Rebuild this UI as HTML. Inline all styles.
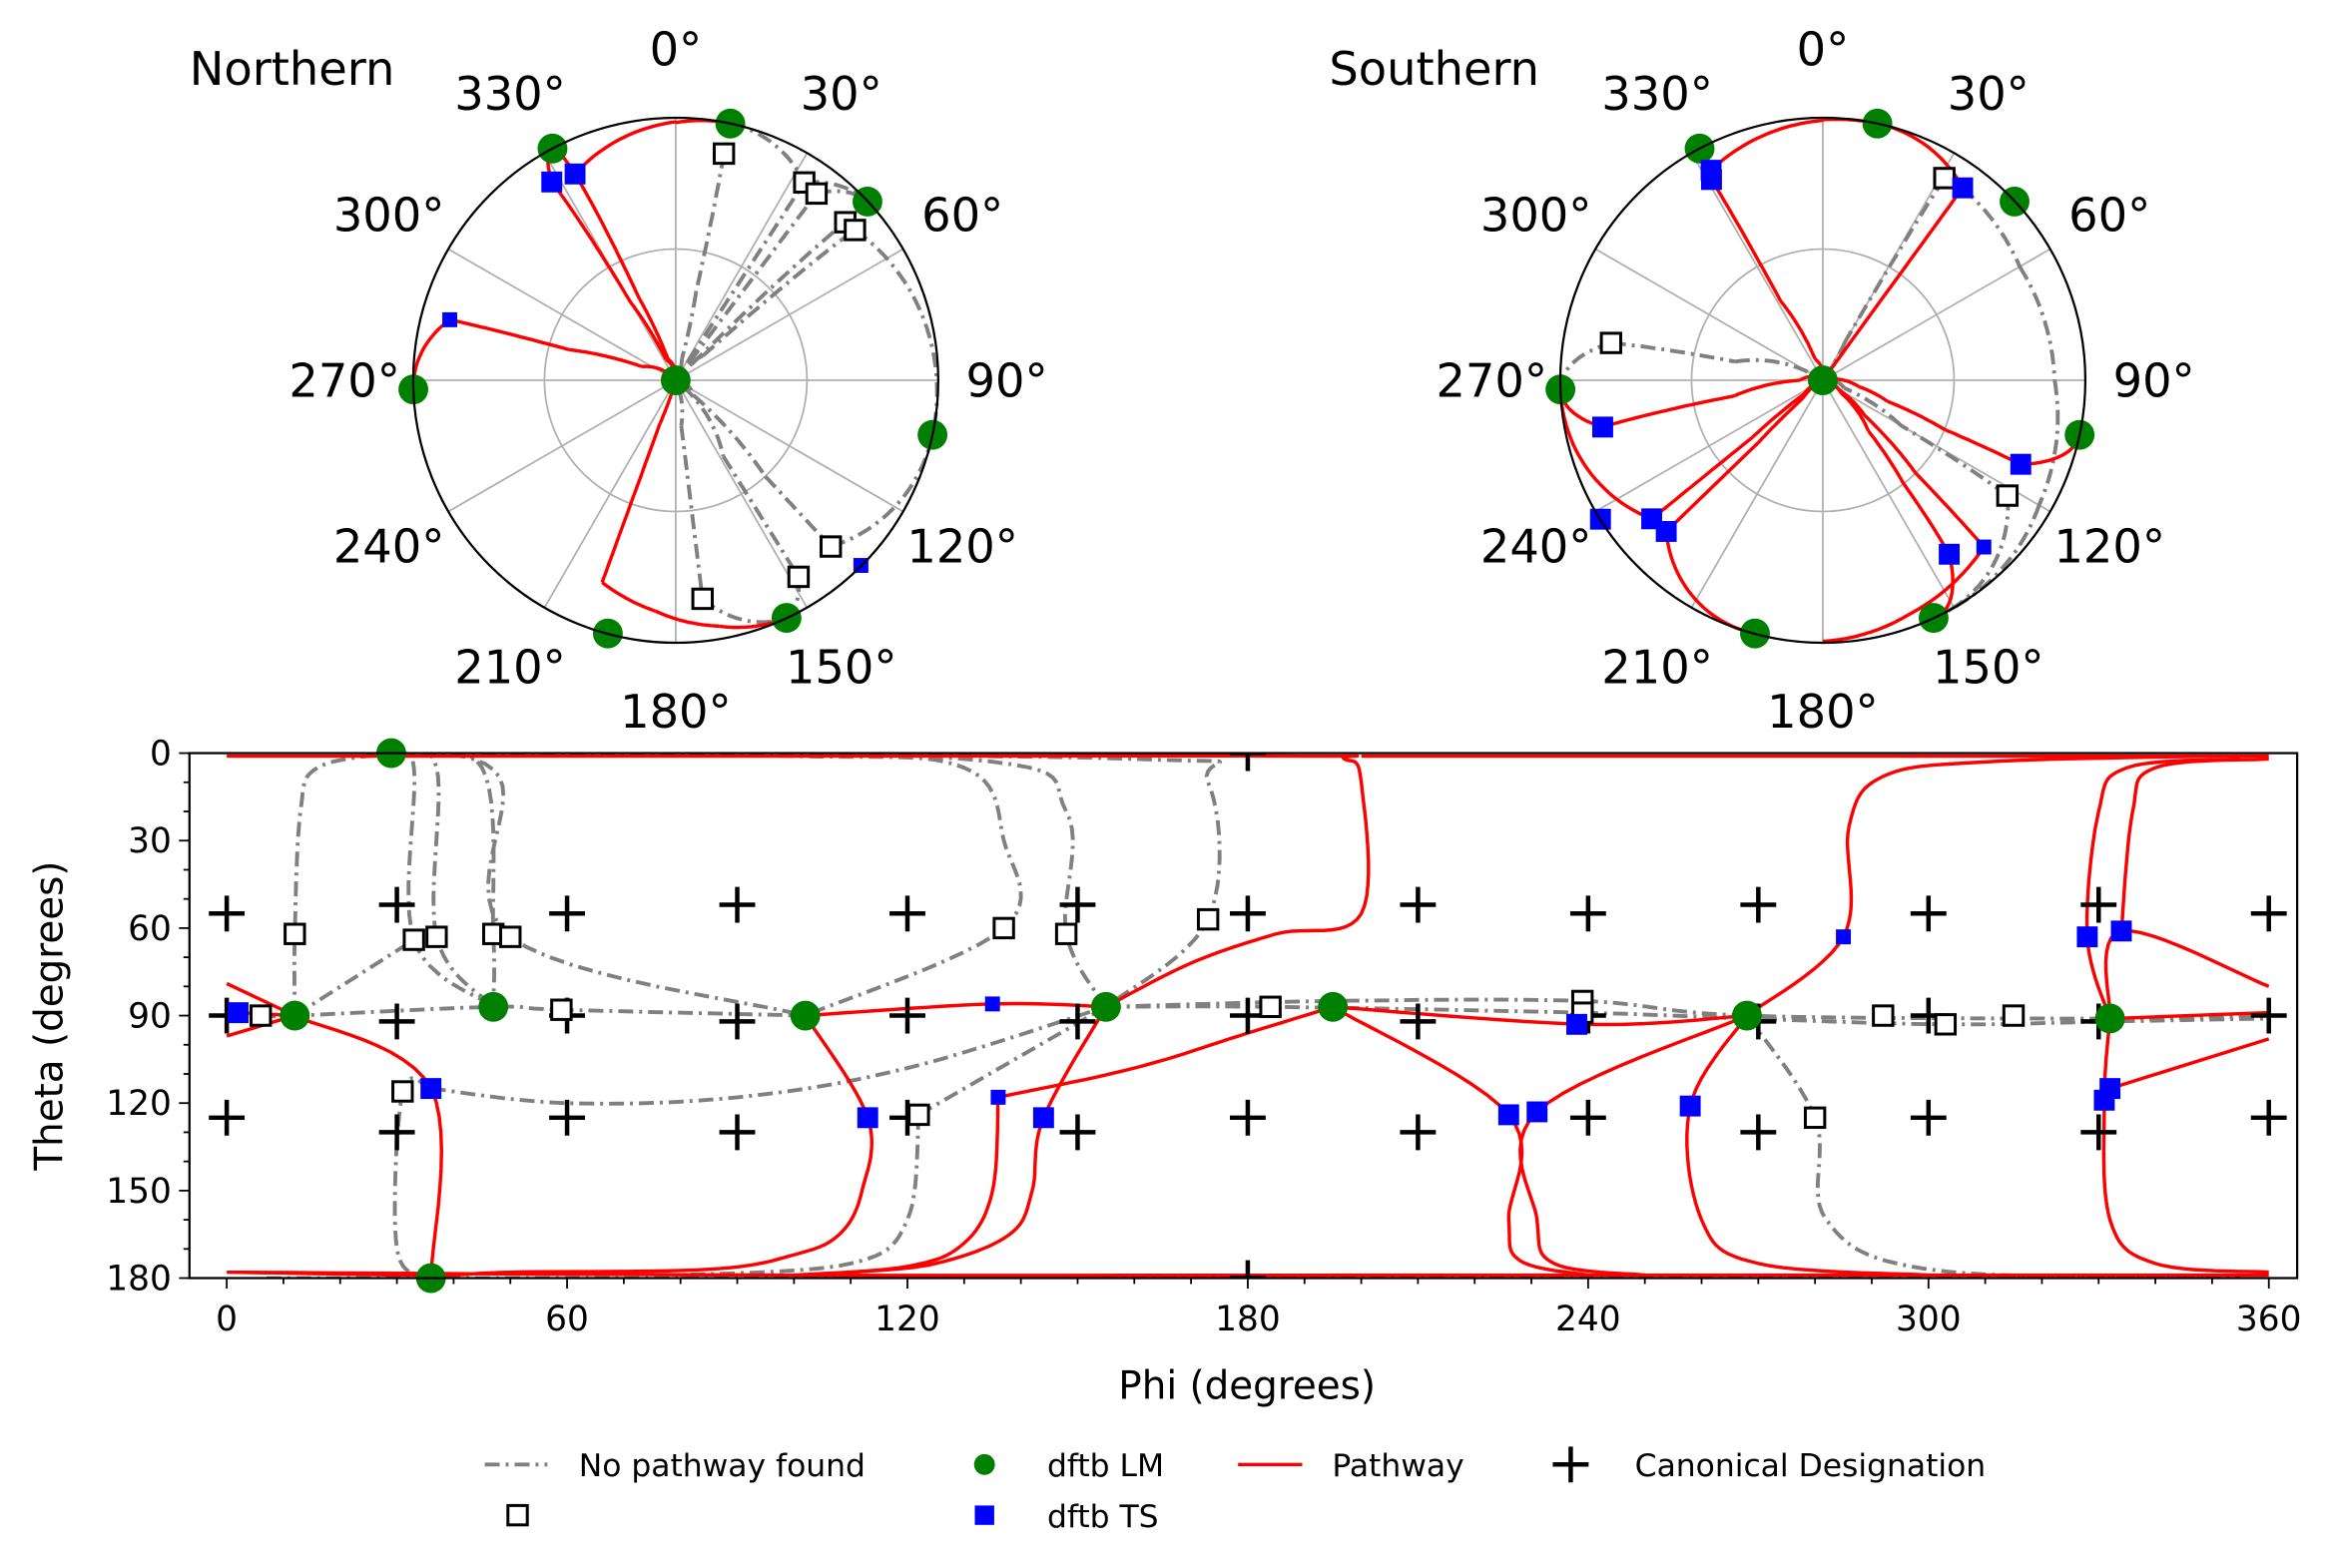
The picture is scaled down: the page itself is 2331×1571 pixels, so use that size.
<!DOCTYPE html>
<html><head><meta charset="utf-8"><style>
html,body{margin:0;padding:0;background:#fff}
svg{display:block;font-family:"DejaVu Sans","Liberation Sans",sans-serif}
</style></head><body>
<svg id="fig" width="2331" height="1571" viewBox="0 0 1560 1051.4" preserveAspectRatio="none" xmlns="http://www.w3.org/2000/svg">
<g id="north"></g>
<g id="south"></g>
<g id="rect"></g>
<g id="legend"></g>
</svg>
<script>
// ---- data (phi, theta in degrees) ----
const lmPoints=[[29,0],[36,180],[12,90],[47,87],[102,90],[155,87],[195,87],[268,90],[332,91]];
const tsLarge=[[2,89],[36,115],[113,125],[144,125],[226,124],[231,123],[258,121],[238,93],[328,63],[334,61],[331,119],[332,115]];
const tsSmall=[[135,86],[136,118],[285,63]];
const openSquares=[[6,90],[12,62],[33,64],[37,63],[47,62],[50,63],[59,88],[31,116],[122,124],[137,60],[148,62],[173,57],[184,87],[239,85],[239,89],[292,90],[303,93],[315,90],[280,125]];
const canonPhi=[0,30,60,90,120,150,180,210,240,270,300,330,360];
const canonThetaEven=[55,90,125];
const canonThetaOdd=[52,92,130];
const canonExtra=[[180,0],[180,180]];
const pathways=[
 [[0,1],[100,1],[190,1],[197,2],[200,10],[200,55],[185,62],[170,72],[155,87]],
 [[200,1],[300,1],[360,1]],
 [[0,178],[100,179],[200,179],[300,179],[360,179]],
 [[0,79],[12,90]],[[0,97],[12,90]],[[2,89],[12,90]],
 [[12,90],[36,115],[36,180]],
 [[102,90],[135,86],[155,87]],
 [[102,90],[113,125],[112,150],[108,165],[100,172],[85,177],[50,178],[36,179],[2,178]],
 [[155,87],[144,125],[142,150],[138,165],[125,175],[110,178]],
 [[136,118],[135,150],[130,168],[120,176],[100,179]],
 [[136,118],[160,108],[180,96],[195,87]],
 [[195,87],[240,93],[268,90]],
 [[195,87],[226,124],[226,160],[228,174],[240,179]],
 [[268,90],[231,123],[231,160],[234,175],[250,179]],
 [[268,90],[258,121],[260,160],[270,175],[300,179]],
 [[268,90],[285,63],[286,25],[292,8],[310,3],[350,1]],
 [[332,91],[328,63],[330,20],[335,5],[355,2]],
 [[332,91],[334,61],[360,80]],
 [[334,61],[336,20],[340,5],[360,2]],
 [[332,91],[331,119],[332,160],[340,175],[360,178]],
 [[332,115],[360,98]],
 [[332,91],[360,89]]
];
const noPathways=[
 [[12,90],[12,62],[13,20],[16,5],[29,0]],
 [[29,0],[33,5],[33,64],[47,87]],
 [[29,0],[37,5],[37,63],[47,87]],
 [[29,0],[45,5],[47,62],[47,87]],
 [[29,0],[48,8],[50,63],[102,90]],
 [[12,90],[33,64]],
 [[6,90],[12,90],[47,87],[59,88],[102,90]],
 [[29,0],[100,1],[130,5],[137,30],[137,60],[102,90]],
 [[29,0],[130,2],[148,20],[148,62],[155,87]],
 [[29,0],[160,2],[173,10],[173,57],[155,87]],
 [[36,115],[31,116],[30,170],[36,180]],
 [[36,115],[60,120],[90,118],[120,108],[155,87]],
 [[122,124],[155,87]],
 [[122,124],[120,160],[110,175],[80,179]],
 [[155,87],[195,85],[239,85],[268,90],[332,91],[360,90]],
 [[155,87],[184,87],[239,89],[268,91],[303,93],[332,92],[360,91]],
 [[7,180],[355,180]],
 [[268,90],[280,125],[282,160],[300,177],[350,180]]
];
// ---- rendering ----
const NS="http://www.w3.org/2000/svg";
function mk(p,t,a){const e=document.createElementNS(NS,t);for(const k in a)e.setAttribute(k,a[k]);p.appendChild(e);return e;}
const X0=127,X1=1540,Y0=505,Y1=857;
const xs=ph=>152+ph*(1521-152)/360;
const ys=th=>Y0+th*(Y1-Y0)/180;
const rect=document.getElementById('rect');
const RED="#ff0000",GRAY="#808080",GREEN="#008000",BLUE="#0000ff";
const dashdot="10,4,2,4";
function curve(g,pts,px,py,st,w,dash,name){
 const d=pts.map((p,i)=>(i?'L':'M')+px(p).toFixed(1)+','+py(p).toFixed(1)).join('');
 const e=mk(g,'path',{d:d,fill:'none',stroke:st,'stroke-width':w,'stroke-linejoin':'round'});
 if(dash)e.setAttribute('stroke-dasharray',dash);
 
 
}
function smooth2(pts){
 if(pts.length<3)return pts;
 const out=[];
 for(let i=0;i<pts.length-1;i++){
  const p0=pts[Math.max(0,i-1)],p1=pts[i],p2=pts[i+1],p3=pts[Math.min(pts.length-1,i+2)];
  const s=0.35;
  const c1=[p1[0]+(p2[0]-p0[0])*s/2,p1[1]+(p2[1]-p0[1])*s/2];
  const c2=[p2[0]-(p3[0]-p1[0])*s/2,p2[1]-(p3[1]-p1[1])*s/2];
  for(let k=0;k<12;k++){const t=k/12,u=1-t;
   out.push([0,1].map(j=>u*u*u*p1[j]+3*u*u*t*c1[j]+3*u*t*t*c2[j]+t*t*t*p2[j]));}
 }
 out.push(pts[pts.length-1]);return out;
}
function lm(g,x,y,name){const e=mk(g,'circle',{cx:x,cy:y,r:10,fill:GREEN});}
function ts(g,x,y,s,name){const e=mk(g,'rect',{x:x-s/2,y:y-s/2,width:s,height:s,fill:BLUE});}
function osq(g,x,y,name){const e=mk(g,'rect',{x:x-6.5,y:y-6.5,width:13,height:13,fill:'#fff',stroke:'#000','stroke-width':2});}
function plus(g,x,y,name){const e=mk(g,'path',{d:`M${x-12},${y}H${x+12}M${x},${y-12}V${y+12}`,stroke:'#000','stroke-width':3});}
function txt(g,x,y,s,size,anchor,name,extra){const e=mk(g,'text',Object.assign({x:x,y:y,'font-size':size,'text-anchor':anchor||'middle',fill:'#000'},extra||{}));e.textContent=s;return e;}

// rect plot
const clip=mk(rect,'clipPath',{id:'rc'});mk(clip,'rect',{x:X0,y:Y0,width:X1-X0,height:Y1-Y0});
const inner=mk(rect,'g',{'clip-path':'url(#rc)'});
const RX=p=>xs(p[0]),RY=p=>ys(p[1]);
noPathways.forEach(c=>curve(inner,smooth2(c),RX,RY,GRAY,2.6,dashdot,'no-pathway-line'));
pathways.forEach(c=>curve(inner,smooth2(c),RX,RY,RED,2.3,null,'pathway-line'));
canonPhi.forEach((ph,i)=>{(i%2?canonThetaOdd:canonThetaEven).forEach(th=>plus(rect,xs(ph),ys(th),'canonical-marker'));});
canonExtra.forEach(p=>plus(inner,xs(p[0]),ys(p[1]),'canonical-marker'));
openSquares.forEach(p=>osq(rect,xs(p[0]),ys(p[1]),'no-pathway-endpoint'));
lmPoints.forEach(p=>lm(rect,xs(p[0]),ys(p[1]),'dftb-lm-point'));
tsLarge.forEach(p=>ts(rect,xs(p[0]),ys(p[1]),14,'dftb-ts-point'));
tsSmall.forEach(p=>ts(rect,xs(p[0]),ys(p[1]),10,'dftb-ts-point'));
mk(rect,'rect',{x:X0,y:Y0,width:X1-X0,height:Y1-Y0,fill:'none',stroke:'#000','stroke-width':1.5});
for(let ph=0;ph<=360;ph+=10){const x=xs(ph),maj=ph%60==0;mk(rect,'line',{x1:x,x2:x,y1:Y1,y2:Y1+(maj?7:4),stroke:'#000','stroke-width':1.2});
 if(maj)txt(rect,x,Y1+35,String(ph),23,'middle','x-tick-label');}
for(let th=0;th<=180;th+=10){const y=ys(th),maj=th%30==0;mk(rect,'line',{x1:X0,x2:X0-(maj?7:4),y1:y,y2:y,stroke:'#000','stroke-width':1.2});
 if(maj)txt(rect,X0-12,y+8,String(th),23,'end','y-tick-label');}
txt(rect,836,938,'Phi (degrees)',26,'middle','x-axis-title');
txt(rect,42,681,'Theta (degrees)',26,'middle','y-axis-title',{transform:'rotate(-90 42 681)'});

// polar plots
function polar(gid,cx,cy,R,title,tx,south){
 const g=document.getElementById(gid);
 const proj=p=>{const r=Math.sin(p[1]*Math.PI/180)*R;const a=p[0]*Math.PI/180;return[cx+r*Math.sin(a),cy-r*Math.cos(a)];};
 for(let a=0;a<360;a+=30){const t=a*Math.PI/180;mk(g,'line',{x1:cx,y1:cy,x2:cx+R*Math.sin(t),y2:cy-R*Math.cos(t),stroke:'#b0b0b0','stroke-width':1.2});
  txt(g,cx+222*Math.sin(t),cy-222*Math.cos(t)+11,a+'°',31,'middle','polar-angle-label');}
 mk(g,'circle',{cx:cx,cy:cy,r:R/2,fill:'none',stroke:'#b0b0b0','stroke-width':1.2});
 const inH=p=>south?p[1]>96:p[1]<84;
 const near=p=>p[1]>=84&&p[1]<=96;
 const draw=(list,col,w,dash,name)=>list.forEach(c=>{
  for(let i=0;i<c.length-1;i++){const a=c[i],b=c[i+1];
   if(!((inH(a)&&inH(b))||(inH(a)&&near(b))||(near(a)&&inH(b))))continue;
   const seg=[];for(let k=0;k<=24;k++){const f=k/24;seg.push(proj([a[0]+(b[0]-a[0])*f,a[1]+(b[1]-a[1])*f]));}
   curve(g,seg,p=>p[0],p=>p[1],col,w,dash,name);}
 });
 draw(noPathways,GRAY,2.6,dashdot,'no-pathway-line');
 draw(pathways,RED,2.3,null,'pathway-line');
 const tsIn=p=>south?p[1]>92:p[1]<88;
 openSquares.filter(inH).forEach(p=>{const q=proj(p);osq(g,q[0],q[1],'no-pathway-endpoint');});
 lmPoints.filter(p=>inH(p)||near(p)).forEach(p=>{const q=proj(p);lm(g,q[0],q[1],'dftb-lm-point');});
 tsLarge.filter(tsIn).forEach(p=>{const q=proj(p);ts(g,q[0],q[1],14,'dftb-ts-point');});
 tsSmall.filter(tsIn).forEach(p=>{const q=proj(p);ts(g,q[0],q[1],10,'dftb-ts-point');});
 mk(g,'circle',{cx:cx,cy:cy,r:R,fill:'none',stroke:'#000','stroke-width':1.5});
 txt(g,tx,57,title,31,'start','polar-title');
}
polar('north',453,255,176,'Northern',127,false);
polar('south',1222,255,176,'Southern',891,true);

// legend
const L=document.getElementById('legend');
curve(L,[[325,982],[367,982]],p=>p[0],p=>p[1],GRAY,2.6,dashdot,'legend-no-pathway-line');
txt(L,388,990,'No pathway found',21,'start','legend-label');
osq(L,347,1016,'legend-no-pathway-square');
lm(L,660,982,'legend-lm-marker');L.lastChild.setAttribute('r',7);
txt(L,702,990,'dftb LM',21,'start','legend-label');
ts(L,660,1016,13,'legend-ts-marker');
txt(L,702,1024,'dftb TS',21,'start','legend-label');
curve(L,[[830,982],[873,982]],p=>p[0],p=>p[1],RED,2.3,null,'legend-pathway-line');
txt(L,893,990,'Pathway',21,'start','legend-label');
plus(L,1053,982,'legend-canonical-marker');
txt(L,1096,990,'Canonical Designation',21,'start','legend-label');
</script>
</body></html>
